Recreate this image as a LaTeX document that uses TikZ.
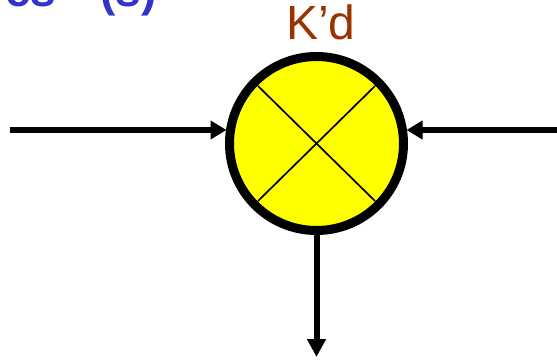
\documentclass[tikz,border=0pt]{standalone}
\usepackage{fontspec}
\setmainfont{Liberation Sans}
\usetikzlibrary{arrows.meta}
\definecolor{headblue}{HTML}{3333CC}
\definecolor{labelbrown}{HTML}{993300}
\definecolor{sumyellow}{HTML}{FFFF00}
\tikzset{
  px/.style={x=1pt,y=-1pt},
  junction/.style={circle,draw=black,fill=sumyellow,line width=9pt,minimum size=174pt,inner sep=0pt,outer sep=0pt},
  crossline/.style={draw=black,line width=1.7pt},
  flow/.style={draw=black,line width=6pt,-{Triangle[length=16pt,width=18pt]},shorten >=3pt},
  flowdown/.style={draw=black,line width=6pt,-{Triangle[length=18pt,width=18pt]}},
  headtext/.style={font=\fontsize{46}{46}\selectfont\bfseries,text=headblue,inner sep=0pt,anchor=base west},
  label/.style={font=\fontsize{48}{48}\selectfont,text=labelbrown,inner sep=0pt,anchor=base}
}
\begin{document}
\begin{tikzpicture}[px]
\useasboundingbox (0,0) rectangle (557,361);
\begin{scope}
  \clip (0,0) rectangle (557,361);
  \node[headtext] (title) at (5,7) {es\hspace{44pt}(s)};
\end{scope}
\node[label] (kd) at (321,40) {K’d};
\node[junction] (sum) at (316.5,143.5) {};
\coordinate (nw) at (258,86);
\coordinate (se) at (375,201);
\coordinate (ne) at (375,86);
\coordinate (sw) at (258,201);
\draw[crossline] (nw) -- (se);
\draw[crossline] (ne) -- (sw);
\coordinate (inl) at (10,130);
\coordinate (inr) at (557,130);
\coordinate (outb) at (316.5,357);
\draw[flow] (inl) -- (inl -| sum.west);
\draw[flow] (inr) -- (inr -| sum.east);
\draw[flowdown] (sum.south) -- (outb);
\end{tikzpicture}
\end{document}
